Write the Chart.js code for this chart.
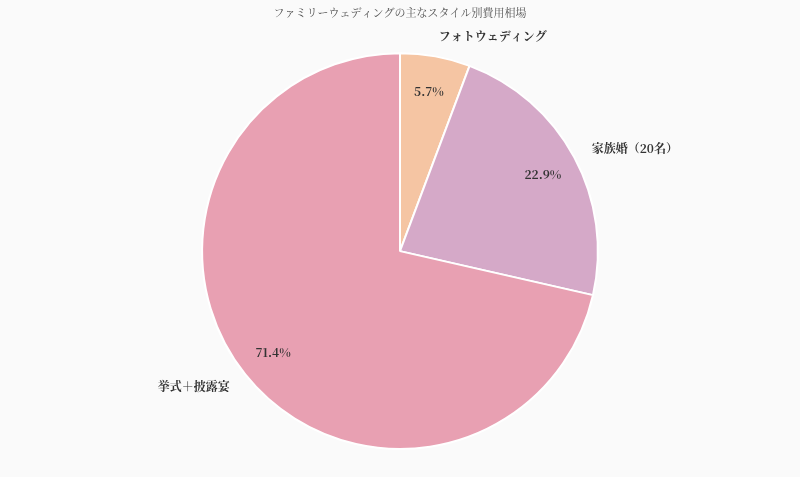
<!DOCTYPE html>
<html lang="ja">
<head>
<meta charset="utf-8">
<script src="https://cdn.jsdelivr.net/npm/chart.js@4/dist/chart.umd.min.js"></script>
<style>
  html, body { margin: 0; padding: 0; background: #fafafa; }
  #wrap { width: 800px; height: 477px; }
</style>
</head>
<body>
<div id="wrap"><canvas id="chart" width="800" height="477"></canvas></div>
<script>
// 費用相場（万円）
const categories = ['フォトウェディング', '家族婚（20名）', '挙式＋披露宴'];
const costs = [20, 80, 250];
const sliceColors = ['#f5c5a3', '#d5a9c8', '#e8a0b2'];

const serif = '"Noto Serif CJK JP", "Liberation Serif", "DejaVu Serif", "Noto Sans CJK JP", serif';

const background = {
    id: 'background',
    beforeDraw(chart) {
        const ctx = chart.ctx;
        ctx.save();
        ctx.fillStyle = '#fafafa';
        ctx.fillRect(0, 0, chart.width, chart.height);
        ctx.restore();
    }
};

// slice names outside, percentages inside
const sliceLabels = {
    id: 'sliceLabels',
    afterDatasetsDraw(chart) {
        const ctx = chart.ctx;
        const meta = chart.getDatasetMeta(0);
        const data = chart.data.datasets[0].data;
        const total = data.reduce((a, b) => a + b, 0);
        ctx.save();
        ctx.fillStyle = '#333';
        ctx.textBaseline = 'middle';
        meta.data.forEach((arc, i) => {
            const p = arc.getProps(['x', 'y', 'startAngle', 'endAngle', 'outerRadius'], true);
            const mid = (p.startAngle + p.endAngle) / 2;
            const cos = Math.cos(mid), sin = Math.sin(mid);

            const pct = (data[i] / total * 100).toFixed(1) + '%';
            const rIn = p.outerRadius * 0.82;
            ctx.font = 'bold 12px ' + serif;
            ctx.textAlign = 'center';
            ctx.fillText(pct, p.x + cos * rIn, p.y + sin * rIn);

            const rOut = p.outerRadius * 1.1;
            ctx.textAlign = cos >= 0 ? 'left' : 'right';
            ctx.fillText(chart.data.labels[i], p.x + cos * rOut, p.y + sin * rOut);
        });
        ctx.restore();
    }
};

new Chart(document.getElementById('chart'), {
    type: 'pie',
    data: {
        labels: categories,
        datasets: [{
            data: costs,
            backgroundColor: sliceColors,
            borderColor: '#ffffff',
            borderWidth: 2
        }]
    },
    options: {
        responsive: false,
        animation: false,
        layout: { padding: { top: 0, bottom: 27 } },
        plugins: {
            legend: { display: false },
            tooltip: { enabled: false },
            title: {
                display: true,
                text: 'ファミリーウェディングの主なスタイル別費用相場',
                color: '#555',
                font: { family: serif, size: 11, weight: 'normal' },
                padding: { top: 6, bottom: 33 }
            }
        }
    },
    plugins: [background, sliceLabels]
});
</script>
</body>
</html>
